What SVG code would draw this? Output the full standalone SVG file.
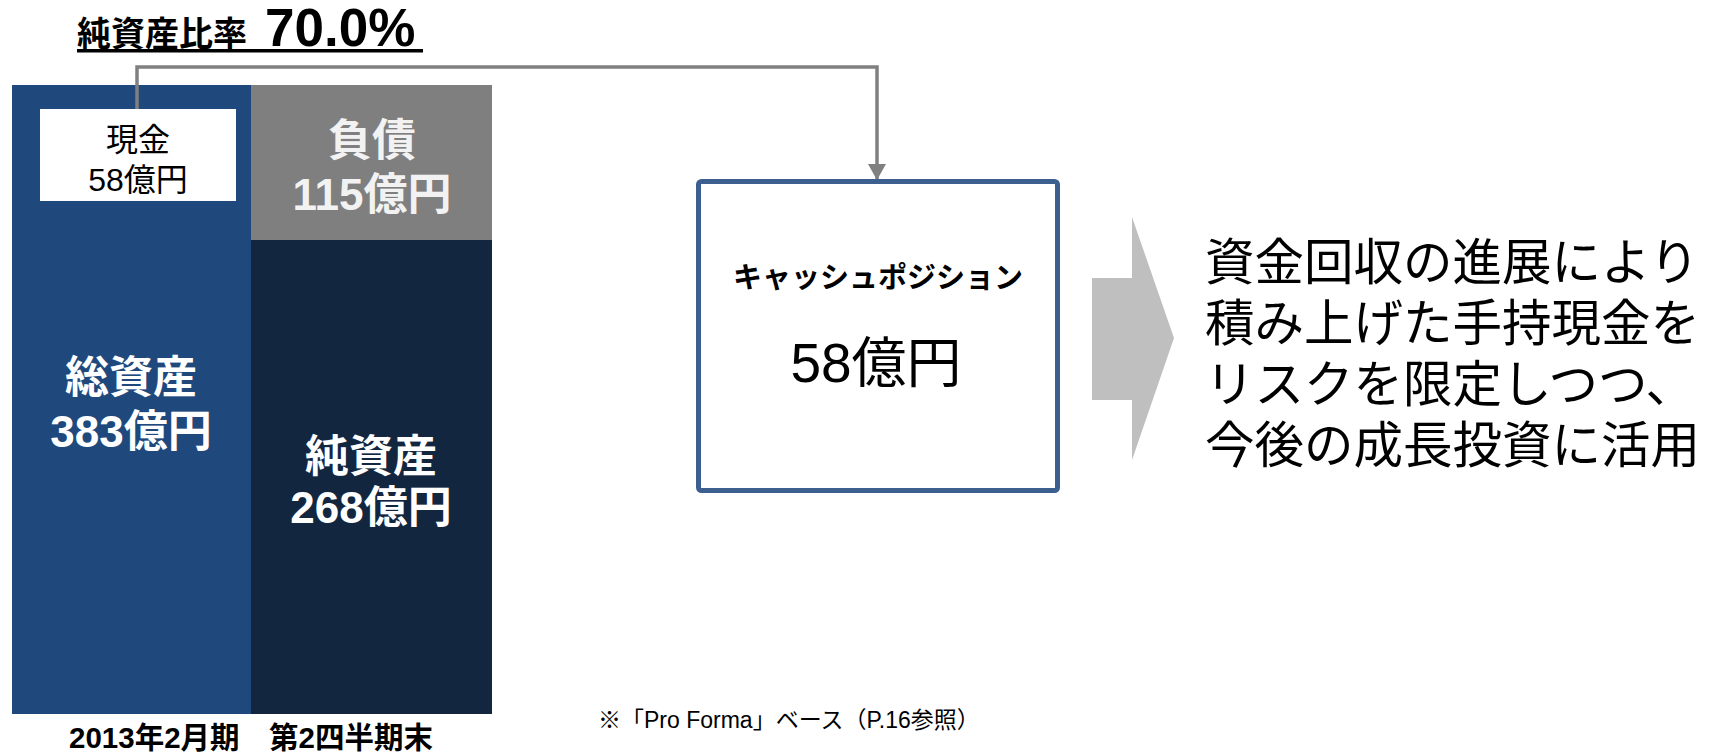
<svg xmlns="http://www.w3.org/2000/svg" width="1735" height="752" viewBox="0 0 1735 752">
<defs>
<style>
.t{font-family:"Liberation Sans","Noto Sans CJK JP",sans-serif}
.b{font-weight:bold}
.w{fill:#ffffff}
.k{fill:#000000}
.m{text-anchor:middle}
</style>
<marker id="ah" markerUnits="userSpaceOnUse" markerWidth="18" markerHeight="18" viewBox="0 0 18 18" refX="16" refY="9" orient="auto">
<path d="M0,0 L16,9 L0,18 Z" fill="#808080"/>
</marker>
</defs>
<rect width="1735" height="752" fill="#ffffff"/>
<g id="title">
<text class="t b k" x="77" y="46"><tspan font-size="34">純資産比率</tspan><tspan font-size="53" dx="18">70.0%</tspan></text>
<rect x="77" y="49" width="346" height="3.5" fill="#000"/>
</g>
<g id="total-assets">
<rect x="12" y="85" width="239" height="629" fill="#1F497D"/>
<text class="t b w m" x="131" y="393" font-size="44">総資産</text>
<text class="t b w m" x="131" y="447" font-size="44">383億円</text>
</g>
<g id="liabilities">
<rect x="251" y="85" width="241" height="155" fill="#7F7F7F"/>
<text class="t b m" x="372" y="156" font-size="44" fill="#F2F2F2">負債</text>
<text class="t b m" x="372" y="210" font-size="44" fill="#F2F2F2">115億円</text>
</g>
<g id="net-assets">
<rect x="251" y="240" width="241" height="474" fill="#132640"/>
<text class="t b w m" x="371" y="472" font-size="44">純資産</text>
<text class="t b w m" x="371" y="523" font-size="44">268億円</text>
</g>
<g id="cash">
<rect x="40" y="109" width="196" height="92" fill="#ffffff"/>
<text class="t k m" x="138" y="151" font-size="32">現金</text>
<text class="t k m" x="138" y="191" font-size="32">58億円</text>
</g>
<g id="period-label">
<text class="t b k" x="69" y="748" font-size="29.5">2013年2月期　第2四半期末</text>
</g>
<g id="connectors">
<path d="M137,109 V67 H877 V180" fill="none" stroke="#808080" stroke-width="3.5" marker-end="url(#ah)"/>
</g>
<g id="cash-position">
<rect x="698.5" y="181.5" width="359" height="309" rx="3" fill="#ffffff" stroke="#3C5F8F" stroke-width="5"/>
<text class="t b k m" x="878" y="288" font-size="29">キャッシュポジション</text>
<text class="t k m" x="876" y="382" font-size="55">58億円</text>
</g>
<g id="big-arrow">
<polygon points="1092,278 1132,278 1132,217 1174,338 1132,460 1132,400 1092,400" fill="#BFBFBF"/>
</g>
<g id="message">
<text class="t k" x="1205" y="280" font-size="49.5">資金回収の進展により</text>
<text class="t k" x="1205" y="341" font-size="49.5">積み上げた手持現金を</text>
<text class="t k" x="1205" y="402" font-size="49.5">リスクを限定しつつ、</text>
<text class="t k" x="1205" y="463" font-size="49.5">今後の成長投資に活用</text>
</g>
<g id="footnote">
<text class="t k" x="598" y="728" font-size="23">※「Pro Forma」ベース（P.16参照）</text>
</g>
</svg>
